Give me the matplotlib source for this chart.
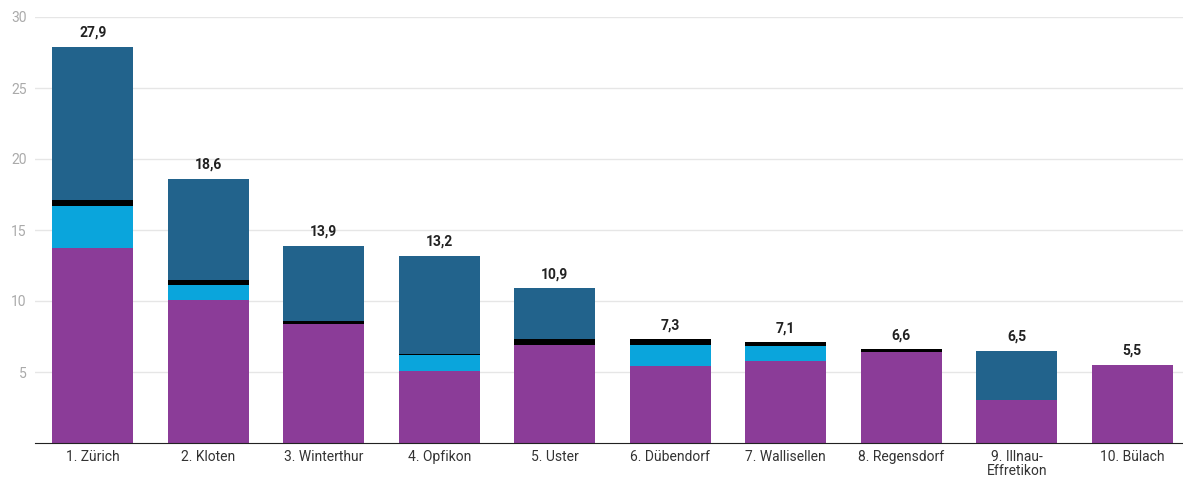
import matplotlib.pyplot as plt
import numpy as np

plt.rcParams['font.family'] = ['Roboto', 'DejaVu Sans']

categories = ['1. Zürich', '2. Kloten', '3. Winterthur', '4. Opfikon', '5. Uster',
              '6. Dübendorf', '7. Wallisellen', '8. Regensdorf', '9. Illnau-\nEffretikon',
              '10. Bülach']
purple = [13.7, 10.1, 8.4, 5.1, 6.9, 5.4, 5.8, 6.4, 3.0, 5.5]
light_blue = [3.0, 1.0, 0.0, 1.1, 0.0, 1.5, 1.0, 0.0, 0.0, 0.0]
black = [0.4, 0.4, 0.2, 0.1, 0.4, 0.4, 0.3, 0.2, 0.0, 0.0]
dark_blue = [10.8, 7.1, 5.3, 6.9, 3.6, 0.0, 0.0, 0.0, 3.5, 0.0]
totals = [27.9, 18.6, 13.9, 13.2, 10.9, 7.3, 7.1, 6.6, 6.5, 5.5]

series = [
    (purple, '#8b3c98'),
    (light_blue, '#0aa5dc'),
    (black, '#000000'),
    (dark_blue, '#22638c'),
]

fig = plt.figure(figsize=(11.83, 4.78), dpi=100)
ax = fig.add_axes([35 / 1183, 35 / 478, 1148 / 1183, 426 / 478])

x = np.arange(len(categories))
bottom = np.zeros(len(categories))
for vals, col in series:
    vals = np.array(vals)
    ax.bar(x, vals, width=0.7, bottom=bottom, color=col, zorder=2)
    bottom += vals

for xi, t in zip(x, totals):
    ax.text(xi, t + 0.5, f'{t:.1f}'.replace('.', ','), ha='center', va='bottom',
            fontsize=10, fontweight='bold', color='#222222')

ax.set_xlim(-0.5, 9.44)
ax.set_ylim(0, 30)
ax.set_yticks([5, 10, 15, 20, 25, 30])
ax.set_xticks(x)
ax.set_xticklabels(categories, linespacing=1.05)
ax.grid(axis='y', color='#e6e6e6', linewidth=1, zorder=0)
for s in ['top', 'right', 'left']:
    ax.spines[s].set_visible(False)
ax.spines['bottom'].set_color('#222222')
ax.tick_params(axis='y', length=0, labelsize=10, labelcolor='#aaaaaa', pad=6)
ax.tick_params(axis='x', length=0, labelsize=10, labelcolor='#333333', pad=5)

fig.savefig('out.png', dpi=100)
